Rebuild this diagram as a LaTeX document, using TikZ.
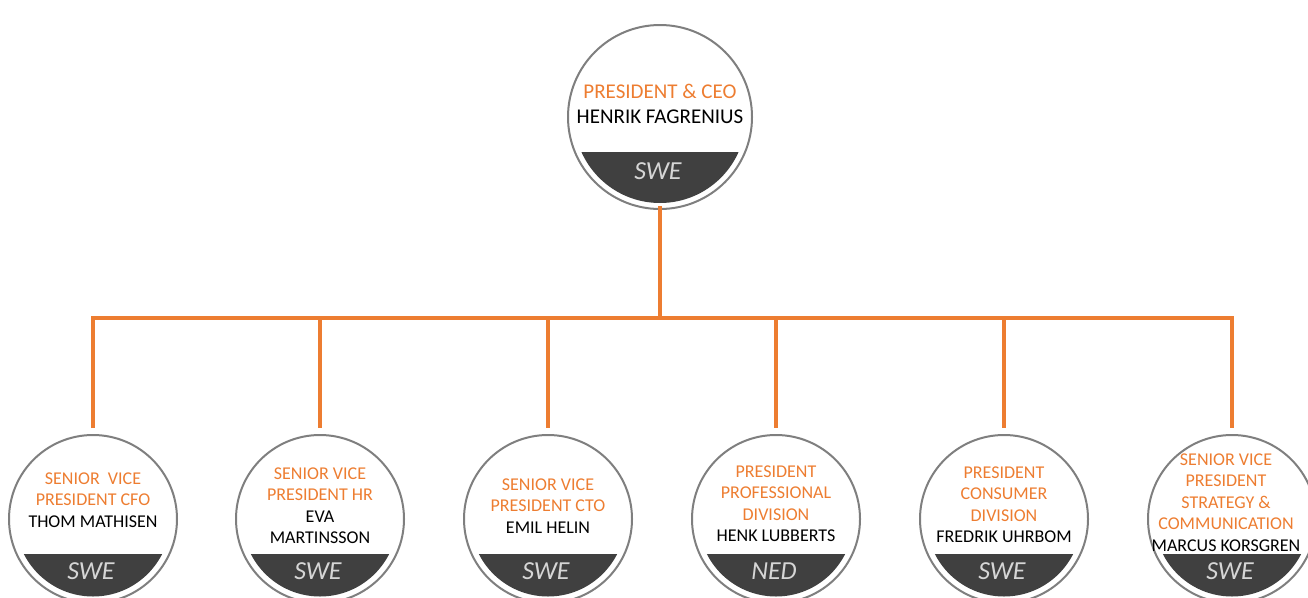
\documentclass[tikz,border=0pt]{standalone}
\usepackage{fontspec}
\setmainfont{Carlito}
\definecolor{orng}{HTML}{ED7D31}
\definecolor{bandc}{HTML}{404040}
\definecolor{ringc}{HTML}{7F7F7F}
\definecolor{ctry}{HTML}{D6D6D6}
\tikzset{
  ring/.style={circle, draw=ringc, line width=2pt, inner sep=0pt, outer sep=0pt},
  conn/.style={draw=orng, line width=4pt, line join=miter},
  txt/.style={align=center, inner sep=0pt, text=black, font=\fontsize{18}{21.5}\selectfont},
  toptxt/.style={align=center, inner sep=0pt, text=black, font=\fontsize{21}{25}\selectfont},
  cty/.style={inner sep=0pt, text=ctry, font=\fontsize{26}{26}\selectfont\itshape},
}
% #1 name, #2 x, #3 y, #4 radius, #5 band offset, #6 gap
\newcommand\orgband[6]{%
  \begin{scope}
    \clip (#2-#4,#3+#5) rectangle (#2+#4,#3+#4);
    \fill[bandc] (#2,#3) circle[radius=#4pt-#6pt];
  \end{scope}
  \node[ring, minimum size=2*#4pt] (#1) at (#2,#3) {};
}
\newcommand\og[1]{\textcolor{orng}{#1}}
\begin{document}
\begin{tikzpicture}[x=1pt,y=-1pt]
\useasboundingbox (0,0) rectangle (1308,597);

% circles with bands
\orgband{ceo}{660}{117}{92}{35}{6}
\orgband{c1}{93}{519}{84}{35}{6.5}
\orgband{c2}{320}{519}{84}{35}{6.5}
\orgband{c3}{548}{519}{84}{35}{6.5}
\orgband{c4}{776}{519}{84}{35}{6.5}
\orgband{c5}{1004}{519}{84}{35}{6.5}
\orgband{c6}{1232}{519}{84}{35}{6.5}

% texts
\node[toptxt] (tceo) at (660,104.2) {\og{PRESIDENT \& CEO}\\HENRIK FAGRENIUS};
\node[txt] (t1) at (93,500) {\og{SENIOR\ \ VICE}\\\og{PRESIDENT CFO}\\THOM MATHISEN};
\node[txt] (t2) at (320,505.8) {\og{SENIOR VICE}\\\og{PRESIDENT HR}\\EVA\\MARTINSSON};
\node[txt] (t3) at (548,505.8) {\og{SENIOR VICE}\\\og{PRESIDENT CTO}\\EMIL HELIN};
\node[txt] (t4) at (776,503.8) {\og{PRESIDENT}\\\og{PROFESSIONAL}\\\og{DIVISION}\\HENK LUBBERTS};
\node[txt] (t5) at (1004,504.5) {\og{PRESIDENT}\\\og{CONSUMER}\\\og{DIVISION}\\FREDRIK UHRBOM};
\node[txt] (t6) at (1226,502.3) {\og{SENIOR VICE}\\\og{PRESIDENT}\\\og{STRATEGY \&}\\\og{COMMUNICATION}\\MARCUS KORSGREN};

% country labels
\node[cty] (sceo) at (658,171) {SWE};
\node[cty] (s1) at (91,571) {SWE};
\node[cty] (s2) at (318,571) {SWE};
\node[cty] (s3) at (546,571) {SWE};
\node[cty] (s4) at (774,571) {NED};
\node[cty] (s5) at (1002,571) {SWE};
\node[cty] (s6) at (1230,571) {SWE};

% connectors
\coordinate (j0) at (660,318);
\coordinate (j1) at (93,318);
\coordinate (j2) at (320,318);
\coordinate (j3) at (548,318);
\coordinate (j4) at (776,318);
\coordinate (j5) at (1004,318);
\coordinate (j6) at (1232,318);
\draw[conn, shorten <=-3pt] (ceo.south) -- (j0);
\draw[conn, shorten <=7pt, shorten >=7pt] (c1.north) -- (j1) -- (j6) -- (c6.north);
\draw[conn, shorten >=7pt] (j2) -- (c2.north);
\draw[conn, shorten >=7pt] (j3) -- (c3.north);
\draw[conn, shorten >=7pt] (j4) -- (c4.north);
\draw[conn, shorten >=7pt] (j5) -- (c5.north);
\end{tikzpicture}
\end{document}
